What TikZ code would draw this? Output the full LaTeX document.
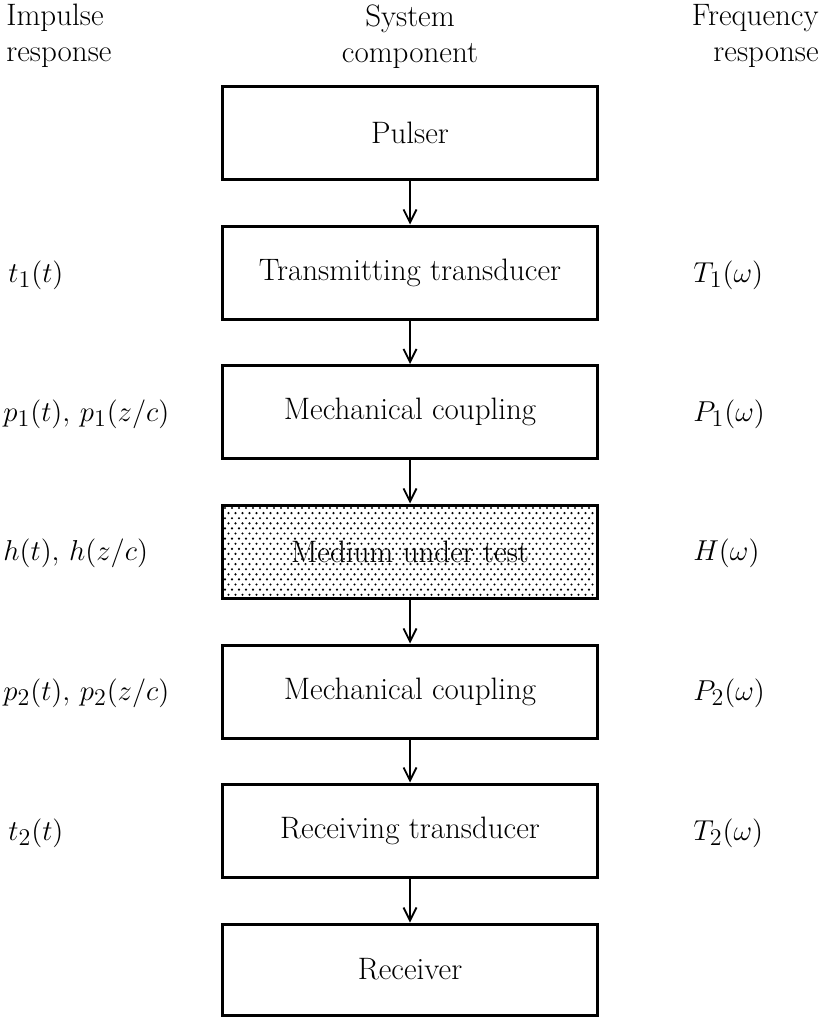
\documentclass[tikz,border=0pt]{standalone}
\usetikzlibrary{arrows.meta}
\DeclareMathSizes{15.5}{15.5}{12}{9}
\begin{document}
\begin{tikzpicture}[x=0.5pt,y=-0.5pt,
  every node/.style={font=\fontsize{15.5}{18}\selectfont, inner sep=0pt},
  block/.style={draw, line width=1.5pt, minimum width=187.5pt, minimum height=46.5pt},
  flow/.style={line width=0.9pt, -{Straight Barb[length=6.5pt,width=6.5pt]}},
  lbl/.style={anchor=west}
]
\useasboundingbox (0,0) rectangle (822,1017);

% column headings
\node[align=left, anchor=north west] (hImp) at (6,4) {Impulse\\response};
\node[align=center, anchor=north] (hSys) at (410,4) {System\\component};
\node[align=right, anchor=north east] (hFrq) at (819,4) {Frequency\\response};

% stipple for the medium under test
\foreach \r in {0,...,17}{
  \pgfmathsetmacro\yy{508+\r*5.1}
  \pgfmathsetmacro\xo{225+mod(\r,2)*3.5}
  \foreach \c in {0,...,52}{
    \fill (\xo+\c*7,\yy) circle[radius=0.6pt];
  }
}

% signal chain
\node[block] (pulser) at (410,132.5) {Pulser};
\node[block] (ttx)    at (410,272.5) {Transmitting transducer};
\node[block] (mc1)    at (410,412)   {Mechanical coupling};
\node[block] (med)    at (410,551.5) {Medium under test};
\node[block] (mc2)    at (410,691.5) {Mechanical coupling};
\node[block] (trx)    at (410,830.5) {Receiving transducer};
\node[block, minimum height=45.5pt] (rcv) at (410,969.5) {Receiver};

\draw[flow] (pulser) -- (ttx);
\draw[flow] (ttx) -- (mc1);
\draw[flow] (mc1) -- (med);
\draw[flow] (med) -- (mc2);
\draw[flow] (mc2) -- (trx);
\draw[flow] (trx) -- (rcv);

% impulse responses
\node[lbl] (i1) at (8,275) {$t_1(t)$};
\node[lbl] (i2) at (3,414)   {$p_1(t),\, p_1(z/c)$};
\node[lbl] (i3) at (3,553) {$h(t),\, h(z/c)$};
\node[lbl] (i4) at (3,693) {$p_2(t),\, p_2(z/c)$};
\node[lbl] (i5) at (8,833) {$t_2(t)$};

% frequency responses
\node[lbl] (f1) at (693,275) {$T_1(\omega)$};
\node[lbl] (f2) at (693,414)   {$P_1(\omega)$};
\node[lbl] (f3) at (693,553) {$H(\omega)$};
\node[lbl] (f4) at (693,693) {$P_2(\omega)$};
\node[lbl] (f5) at (693,833) {$T_2(\omega)$};
\end{tikzpicture}
\end{document}
